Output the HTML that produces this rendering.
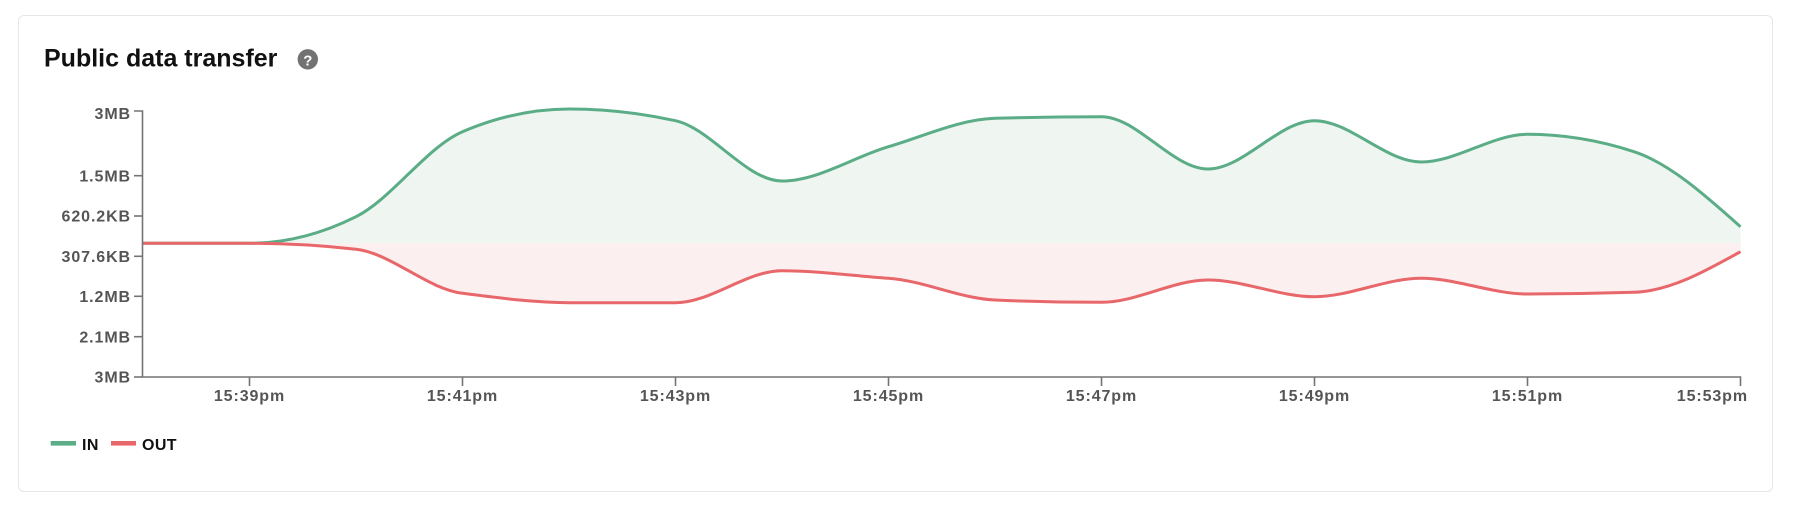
<!DOCTYPE html>
<html>
<head>
<meta charset="utf-8">
<style>
  html, body { margin:0; padding:0; background:#ffffff; }
  body { width:1794px; height:514px; overflow:hidden; position:relative; font-family:"Liberation Sans", Arial, sans-serif; }
  .card { position:absolute; left:18px; top:15px; width:1755px; height:477px; border:1px solid #e6e6e6; border-radius:6px; box-sizing:border-box; background:#fff; }
  svg { position:absolute; left:0; top:0; }
  text { font-family:"Liberation Sans", Arial, sans-serif; }
</style>
</head>
<body>
<div class="card"></div>
<svg width="1794" height="514" viewBox="0 0 1794 514" xmlns="http://www.w3.org/2000/svg">
  <!-- Title -->
  <text x="44" y="66.5" font-size="25" font-weight="bold" fill="#111111">Public data transfer</text>
  <circle cx="307.8" cy="59.3" r="10.2" fill="#727272"/>
  <text x="307.8" y="65.3" font-size="15" font-weight="bold" fill="#ffffff" text-anchor="middle">?</text>

  <!-- Areas -->
  <path fill="#eff5f0" d="M143,243.3 C178.5,243.3 214,243.3 249.5,243.3 C285,243.3 320.5,234.43 356,216.7 C391.5,198.97 427,146.83 462.5,131.7 C498,116.57 533.5,109 569,109 C604.5,109 640,112.9 675.5,120.7 C711,128.5 746.5,181 782,181 C817.5,181 853,157.15 888.5,146.7 C924,136.25 959.5,119.37 995,118.3 C1030.5,117.23 1066,116.7 1101.5,116.7 C1137,116.7 1172.5,169 1208,169 C1243.5,169 1279,120.7 1314.5,120.7 C1350,120.7 1385.5,162 1421,162 C1456.5,162 1492,134.3 1527.5,134.3 C1563,134.3 1598.5,140.1 1634,151.7 C1669.5,163.3 1705,195 1740.5,226.7 L1740.5,243.3 L143,243.3 Z"/>
  <path fill="#fcefef" d="M143,243.3 C178.5,243.3 214,243.3 249.5,243.3 C285,243.3 320.5,245.3 356,249.3 C391.5,253.3 427,288.85 462.5,293.3 C498,297.75 533.5,302.7 569,302.7 C604.5,302.7 640,302.7 675.5,302.7 C711,302.7 746.5,270.7 782,270.7 C817.5,270.7 853,275.86 888.5,278.3 C924,280.74 959.5,298.47 995,300 C1030.5,301.53 1066,302.3 1101.5,302.3 C1137,302.3 1172.5,280 1208,280 C1243.5,280 1279,296.7 1314.5,296.7 C1350,296.7 1385.5,278.3 1421,278.3 C1456.5,278.3 1492,294 1527.5,294 C1563,294 1598.5,293.43 1634,292.3 C1669.5,291.17 1705,271.43 1740.5,251.7 L1740.5,243.3 L143,243.3 Z"/>

  <!-- Lines -->
  <path fill="none" stroke="#5aad86" stroke-width="3" stroke-linejoin="round" d="M143,243.3 C178.5,243.3 214,243.3 249.5,243.3 C285,243.3 320.5,234.43 356,216.7 C391.5,198.97 427,146.83 462.5,131.7 C498,116.57 533.5,109 569,109 C604.5,109 640,112.9 675.5,120.7 C711,128.5 746.5,181 782,181 C817.5,181 853,157.15 888.5,146.7 C924,136.25 959.5,119.37 995,118.3 C1030.5,117.23 1066,116.7 1101.5,116.7 C1137,116.7 1172.5,169 1208,169 C1243.5,169 1279,120.7 1314.5,120.7 C1350,120.7 1385.5,162 1421,162 C1456.5,162 1492,134.3 1527.5,134.3 C1563,134.3 1598.5,140.1 1634,151.7 C1669.5,163.3 1705,195 1740.5,226.7"/>
  <path fill="none" stroke="#e8676a" stroke-width="3" stroke-linejoin="round" d="M143,243.3 C178.5,243.3 214,243.3 249.5,243.3 C285,243.3 320.5,245.3 356,249.3 C391.5,253.3 427,288.85 462.5,293.3 C498,297.75 533.5,302.7 569,302.7 C604.5,302.7 640,302.7 675.5,302.7 C711,302.7 746.5,270.7 782,270.7 C817.5,270.7 853,275.86 888.5,278.3 C924,280.74 959.5,298.47 995,300 C1030.5,301.53 1066,302.3 1101.5,302.3 C1137,302.3 1172.5,280 1208,280 C1243.5,280 1279,296.7 1314.5,296.7 C1350,296.7 1385.5,278.3 1421,278.3 C1456.5,278.3 1492,294 1527.5,294 C1563,294 1598.5,293.43 1634,292.3 C1669.5,291.17 1705,271.43 1740.5,251.7"/>

  <!-- Axes -->
  <g stroke="#747474" stroke-width="1.6" fill="none">
    <path d="M134,111 H142.5 V377 H1740.5 V386"/>
    <path d="M134,175.7 H142.5"/>
    <path d="M134,216 H142.5"/>
    <path d="M134,256.3 H142.5"/>
    <path d="M134,296.3 H142.5"/>
    <path d="M134,336.7 H142.5"/>
    <path d="M134,377 H142.5"/>
    <path d="M249.5,377 V386"/>
    <path d="M462.5,377 V386"/>
    <path d="M675.5,377 V386"/>
    <path d="M888.5,377 V386"/>
    <path d="M1101.5,377 V386"/>
    <path d="M1314.5,377 V386"/>
    <path d="M1527.5,377 V386"/>
  </g>

  <!-- Y labels -->
  <g font-size="16" font-weight="bold" fill="#555555" text-anchor="end" letter-spacing="0.9">
    <text x="131" y="119">3MB</text>
    <text x="131" y="181.4">1.5MB</text>
    <text x="131" y="221.7">620.2KB</text>
    <text x="131" y="262">307.6KB</text>
    <text x="131" y="302">1.2MB</text>
    <text x="131" y="342.4">2.1MB</text>
    <text x="131" y="382.7">3MB</text>
  </g>

  <!-- X labels -->
  <g font-size="16" font-weight="bold" fill="#555555" text-anchor="middle" letter-spacing="0.9">
    <text x="249.5" y="401">15:39pm</text>
    <text x="462.5" y="401">15:41pm</text>
    <text x="675.5" y="401">15:43pm</text>
    <text x="888.5" y="401">15:45pm</text>
    <text x="1101.5" y="401">15:47pm</text>
    <text x="1314.5" y="401">15:49pm</text>
    <text x="1527.5" y="401">15:51pm</text>
    <text x="1748" y="401" text-anchor="end">15:53pm</text>
  </g>

  <!-- Legend -->
  <rect x="50.7" y="441" width="25.3" height="4.6" fill="#5aad86"/>
  <text x="82" y="450" font-size="16" font-weight="bold" fill="#111111" letter-spacing="0.4">IN</text>
  <rect x="111" y="441" width="25" height="4.6" fill="#e8676a"/>
  <text x="142" y="450" font-size="16" font-weight="bold" fill="#111111" letter-spacing="0.4">OUT</text>
</svg>
</body>
</html>
